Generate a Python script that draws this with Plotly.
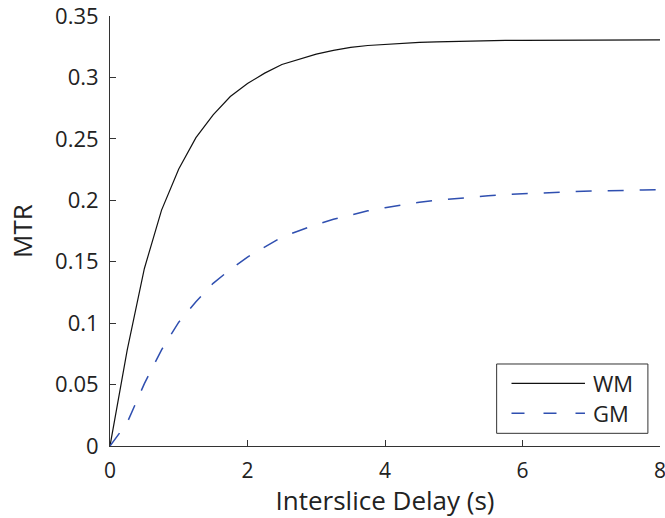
import plotly.graph_objects as go

# Data
t = [0, 0.25, 0.5, 0.75, 1.0, 1.25, 1.5, 1.75, 2.0, 2.25, 2.5, 2.75, 3.0, 3.25,
     3.5, 3.75, 4.0, 4.25, 4.5, 4.75, 5.0, 5.25, 5.5, 5.75, 6.0, 6.25, 6.5,
     6.75, 7.0, 7.25, 7.5, 7.75, 8.0]
wm = [0, 0.078, 0.1445, 0.192, 0.2255, 0.251, 0.2695, 0.2845, 0.295, 0.3035,
      0.3105, 0.3145, 0.3190, 0.3220, 0.3245, 0.3260, 0.3270, 0.3278, 0.3285,
      0.3290, 0.3294, 0.3297, 0.3299, 0.3301, 0.3302, 0.3303, 0.3304, 0.3305,
      0.3305, 0.3306, 0.3306, 0.3306, 0.3306]
gm = [0, 0.019, 0.0508, 0.0783, 0.1008, 0.1174, 0.1324, 0.1437, 0.1538, 0.162,
      0.170, 0.1752, 0.1803, 0.1845, 0.188, 0.1914, 0.194, 0.1963, 0.1984,
      0.2000, 0.2010, 0.2024, 0.2036, 0.2047, 0.2054, 0.2061, 0.2067, 0.2070,
      0.2076, 0.2078, 0.2083, 0.2084, 0.2086]
x_ticks = [0, 2, 4, 6, 8]
y_ticks = [0, 0.05, 0.1, 0.15, 0.2, 0.25, 0.3, 0.35]
y_labels = ["0", "0.05", "0.1", "0.15", "0.2", "0.25", "0.3", "0.35"]
names = ["WM", "GM"]

FONT = "Open Sans"
BLUE = "#2f4fb0"

fig = go.Figure()
fig.add_trace(go.Scatter(x=t, y=wm, mode="lines", name=names[0],
                         line=dict(color="#111111", width=1.2), showlegend=False))
fig.add_trace(go.Scatter(x=t, y=gm, mode="lines", name=names[1],
                         line=dict(color=BLUE, width=1.5, dash="16px,16px"),
                         showlegend=False))

# legend drawn as a boxed key (paper coordinates of the axes domain)
fig.add_shape(type="rect", xref="paper", yref="paper", x0=0.703, x1=0.978,
              y0=0.0295, y1=0.1907, line=dict(color="#333333", width=1),
              fillcolor="white")
fig.add_shape(type="line", xref="paper", yref="paper", x0=0.730, x1=0.8636,
              y0=0.1458, y1=0.1458, line=dict(color="#111111", width=1.2))
fig.add_shape(type="line", xref="paper", yref="paper", x0=0.730, x1=0.8636,
              y0=0.076, y1=0.076, line=dict(color=BLUE, width=1.5, dash="13px,19px"))
for nm, yy in zip(names, [0.1458, 0.076]):
    fig.add_annotation(text=nm, xref="paper", yref="paper", x=0.874, y=yy,
                       xanchor="left", yanchor="middle", showarrow=False,
                       font=dict(family=FONT, size=22, color="#222222"))

fig.update_layout(
    width=665, height=518,
    margin=dict(l=110, r=5, t=16, b=72, autoexpand=False),
    plot_bgcolor="white", paper_bgcolor="white",
    font=dict(family=FONT, size=21, color="#222222"),
)
fig.update_xaxes(range=[0, 8], tickvals=x_ticks, ticks="inside", ticklen=6,
                 tickcolor="#333333", showline=True, linecolor="#333333",
                 linewidth=1, showgrid=False, zeroline=False, mirror=False,
                 automargin=False, ticklabeloverflow="allow",
                 ticklabelstandoff=6,
                 title=dict(text="Interslice Delay (s)", font=dict(size=26), standoff=12),
                 tickfont=dict(size=21))
fig.update_yaxes(range=[0, 0.35], tickvals=y_ticks, ticktext=y_labels,
                 ticks="inside", ticklen=6, tickcolor="#333333", showline=True,
                 linecolor="#333333", linewidth=1, showgrid=False, zeroline=False,
                 automargin=False, ticklabeloverflow="allow",
                 ticklabelstandoff=6,
                 title=dict(text="MTR", font=dict(size=26), standoff=14),
                 tickfont=dict(size=22))

# remove the default 8px page margin so the figure fills the window exactly
fig.write_html("out.html", config={"displayModeBar": False},
               post_script="document.body.style.margin='0px';")
